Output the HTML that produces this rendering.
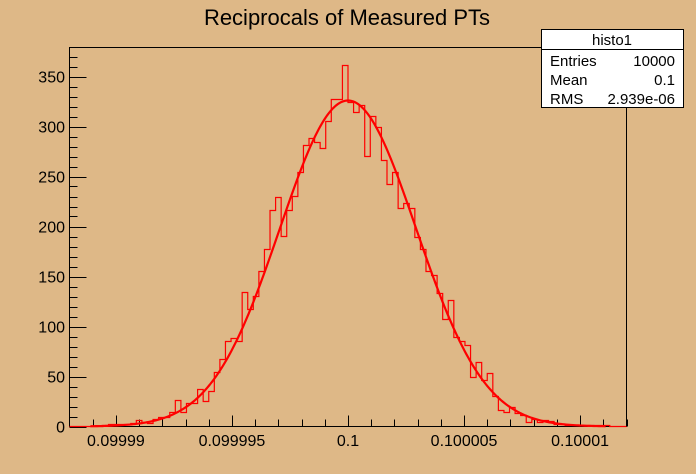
<!DOCTYPE html>
<html><head><meta charset="utf-8"><style>
body{margin:0;background:#deb887;}
svg{display:block;font-family:"Liberation Sans",Arial,sans-serif;}
</style></head><body>
<svg id="chart" width="696" height="474" viewBox="0 0 696 474">
<rect x="0" y="0" width="696" height="474" fill="#deb887"/>
<text x="347" y="25" font-size="22" text-anchor="middle" fill="#000">Reciprocals of Measured PTs</text>
<rect x="69.5" y="47.5" width="557" height="379" fill="none" stroke="#000" stroke-width="1"/>
<g id="axes"></g>
<path id="hist" fill="none" stroke="#ff0000" stroke-width="1.2"/>
<path id="fit" fill="none" stroke="#ff0000" stroke-width="2.2"/>
<g>
<rect x="541.5" y="29.5" width="142" height="78" fill="#fff" stroke="#000"/>
<line x1="541.5" y1="49.5" x2="683.5" y2="49.5" stroke="#000"/>
<text x="612" y="45" font-size="15" text-anchor="middle">histo1</text>
<text x="550" y="66" font-size="15">Entries</text>
<text x="675" y="66" font-size="15" text-anchor="end">10000</text>
<text x="550" y="85" font-size="15">Mean</text>
<text x="675" y="85" font-size="15" text-anchor="end">0.1</text>
<text x="550" y="104" font-size="15">RMS</text>
<text x="675" y="104" font-size="15" text-anchor="end">2.939e-06</text>
</g>
</svg>
<script>
const binCounts=[0,0,0,0,0,0,1,2,2,2,2,3,6,4,3,7,9,9,14,26,14,23,23,37,25,35,54,67,85,88,85,134,117,130,155,177,216,229,190,216,230,254,281,288,284,278,305,327,327,361,324,314,321,270,310,299,266,242,254,218,223,218,189,177,155,151,133,107,126,89,85,81,49,64,46,53,30,16,14,19,13,11,4,7,4,6,5,2,2,1,1,1,1,1,1,1,1,0,0,0];
const xRange=[0.099988,0.100012];
const yRange=[0,379];
const fitParams=[326,0.1,2.939e-6];
const xTickLabels=["0.09999","0.099995","0.1","0.100005","0.10001"];
const xTickValues=[0.09999,0.099995,0.1,0.100005,0.10001];
const yTickValues=[0,50,100,150,200,250,300,350];

const X0=69.5,X1=626.5,Y0=426.5,Y1=47.5;
const sx=v=>X0+(v-xRange[0])/(xRange[1]-xRange[0])*(X1-X0);
const sy=v=>Y0-(v-yRange[0])/(yRange[1]-yRange[0])*(Y0-Y1);
const NS="http://www.w3.org/2000/svg";
const axes=document.getElementById('axes');
function line(x1,y1,x2,y2,name){const l=document.createElementNS(NS,'line');l.setAttribute('x1',x1);l.setAttribute('y1',y1);l.setAttribute('x2',x2);l.setAttribute('y2',y2);l.setAttribute('stroke','#000');


axes.appendChild(l);}
function text(x,y,s,anchor,name){const t=document.createElementNS(NS,'text');t.setAttribute('x',x);t.setAttribute('y',y);t.setAttribute('font-size','16');t.setAttribute('text-anchor',anchor);t.textContent=s;


axes.appendChild(t);}
for(let v=0;v<=370;v+=10){const y=Math.round(sy(v))+0.5;line(X0,y,X0+(v%50===0?17:8),y,'y-tick');}
yTickValues.forEach(v=>text(65,sy(v)+6,String(v),'end','y-tick-label'));
for(let k=-11;k<=12;k++){const v=0.1+k*1e-6;const x=Math.round(sx(v))+0.5;line(x,Y0,x,Y0-(k%5===0?11:7),'x-tick');}
xTickValues.forEach((v,i)=>text(sx(v),446,xTickLabels[i],'middle','x-tick-label'));
const n=binCounts.length,bw=(xRange[1]-xRange[0])/n;
let d='M'+sx(xRange[0])+','+sy(0);
binCounts.forEach((c,i)=>{const xa=sx(xRange[0]+i*bw),xb=sx(xRange[0]+(i+1)*bw);d+=' L'+xa.toFixed(2)+','+sy(c).toFixed(2)+' L'+xb.toFixed(2)+','+sy(c).toFixed(2);});
d+=' L'+sx(xRange[1])+','+sy(0);
document.getElementById('hist').setAttribute('d',d);
let f='';
const fa=xRange[0]+0.9e-6,fb=xRange[1]-0.9e-6;
for(let i=0;i<=300;i++){const v=fa+(fb-fa)*i/300;const g=fitParams[0]*Math.exp(-0.5*Math.pow((v-fitParams[1])/fitParams[2],2));f+=(i?' L':'M')+sx(v).toFixed(2)+','+sy(g).toFixed(2);}
document.getElementById('fit').setAttribute('d',f);
</script>
</body></html>
